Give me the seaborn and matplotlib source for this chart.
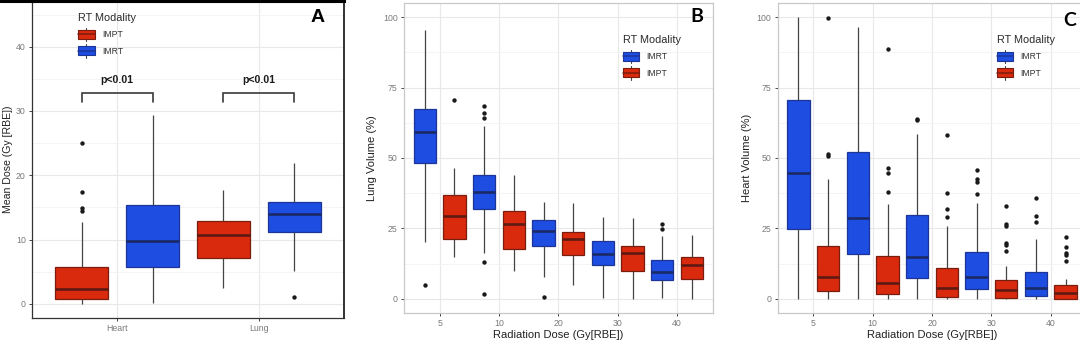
import numpy as np
import pandas as pd
import matplotlib
matplotlib.use("Agg")
import matplotlib.pyplot as plt
import seaborn as sns
from matplotlib.legend_handler import HandlerBase
from matplotlib.patches import Rectangle, Patch
from matplotlib.lines import Line2D
from matplotlib.ticker import MultipleLocator

# ---------------------------------------------------------------------------
# Box summaries per category: (lower whisker, Q1, median, Q3, upper whisker)
# ---------------------------------------------------------------------------

# Panel A - mean dose, Gy[RBE]
organs = ["Heart", "Lung"]
a_order = ["IMPT", "IMRT"]
a_impt = [(0.0, 0.7, 2.3, 5.8, 12.8), (2.4, 7.2, 10.7, 12.9, 17.7)]
a_imrt = [(0.15, 5.8, 9.7, 15.4, 29.3), (5.1, 11.2, 13.9, 15.9, 21.9)]
a_impt_out = [[25.0, 17.4, 14.9, 14.5], []]
a_imrt_out = [[], [1.1]]

# Panel B - lung volume (%) receiving each dose level
dose_levels = ["5", "10", "20", "30", "40"]
bc_order = ["IMRT", "IMPT"]
b_imrt = [(20.2, 48.2, 59.1, 67.4, 95.3), (16.3, 32.0, 38.0, 44.1, 61.4),
          (7.7, 18.9, 24.0, 28.0, 34.5), (0.2, 12.0, 16.1, 20.4, 29.2),
          (0.2, 6.6, 9.5, 13.9, 22.4)]
b_impt = [(14.8, 21.4, 29.5, 36.7, 46.4), (9.8, 17.8, 26.6, 31.3, 43.8),
          (4.8, 15.4, 21.4, 23.7, 34.1), (0.0, 9.8, 16.3, 18.9, 28.6),
          (0.0, 6.9, 12.1, 15.0, 22.6)]
b_imrt_out = [[4.8], [68.4, 66.1, 64.1, 13.0, 1.7], [0.5], [], [26.6, 24.7]]
b_impt_out = [[70.5], [], [], [], []]

# Panel C - heart volume (%) receiving each dose level
c_imrt = [(0.0, 24.8, 44.7, 70.5, 100.0), (0.0, 16.1, 28.6, 52.1, 96.6),
          (0.0, 7.5, 15.0, 29.8, 58.6), (0.0, 3.4, 7.9, 16.7, 34.2),
          (0.0, 1.1, 3.9, 9.5, 21.3)]
c_impt = [(0.0, 2.8, 7.9, 18.7, 42.4), (0.0, 1.8, 5.8, 15.1, 33.7),
          (0.0, 0.7, 4.0, 11.0, 25.7), (0.0, 0.35, 3.2, 6.7, 11.6),
          (0.0, 0.0, 2.2, 4.8, 7.2)]
c_imrt_out = [[], [], [64.0, 63.5], [45.7, 42.4, 41.5, 37.3], [35.7, 29.5, 27.4]]
c_impt_out = [[99.6, 51.3, 50.6], [88.7, 46.6, 44.7, 37.8], [58.0, 37.7, 31.9, 28.9],
              [33.0, 26.5, 25.7, 19.8, 19.3, 16.9], [21.8, 18.4, 16.3, 15.4, 13.3]]

# Significance annotation for panel A (Gy[RBE])
bracket_top = 32.8
bracket_foot = 31.4
pval_y = 34.8
pval_text = "p<0.01"

# ---------------------------------------------------------------------------
FILL = {"IMPT": "#DA2A0E", "IMRT": "#1E4DE2"}
EDGE = {"IMPT": "#7A1C0E", "IMRT": "#1C3596"}
MEDIAN = {"IMPT": "#5E1A12", "IMRT": "#1A2A66"}
WHISK = "#444444"
TICKLAB = "#7a7a7a"

sns.set_theme(style="ticks")
plt.rcParams["font.family"] = ["Liberation Sans", "DejaVu Sans"]


def long_table(cats, series):
    rows = []
    for mod, boxes in series.items():
        for cat, five in zip(cats, boxes):
            for v in five:
                rows.append({"cat": cat, "mod": mod, "val": v})
    return pd.DataFrame(rows)


def outlier_table(cats, hue_order, outs):
    slot = 1.0 / len(hue_order)
    rows = []
    for mod, lists in outs.items():
        k = hue_order.index(mod)
        offset = (k + 0.5) * slot - 0.5
        for i, vals in enumerate(lists):
            for v in vals:
                rows.append({"pos": i + offset, "val": v})
    return pd.DataFrame(rows)


class HandlerBoxKey(HandlerBase):
    def create_artists(self, legend, orig_handle, xdescent, ydescent,
                       width, height, fontsize, trans):
        x0, y0 = -xdescent, -ydescent
        cx = x0 + width / 2
        whisk = Line2D([cx, cx], [y0 - 0.25 * height, y0 + 1.25 * height],
                       color=WHISK, lw=0.8, transform=trans)
        box = Rectangle((x0, y0), width, height,
                        facecolor=orig_handle.get_facecolor(),
                        edgecolor=orig_handle.get_edgecolor(), lw=0.8,
                        transform=trans)
        med = Line2D([x0, x0 + width], [y0 + 0.5 * height] * 2,
                     color=orig_handle.get_edgecolor(), lw=1.1, transform=trans)
        return [whisk, box, med]


def draw_panel(ax, cats, hue_order, series, outs):
    df = long_table(cats, series)
    for mod in hue_order:
        sns.boxplot(data=df[df["mod"] == mod], x="cat", y="val", hue="mod",
                    order=cats, hue_order=hue_order, palette=FILL, saturation=1,
                    dodge=True, width=1.0, gap=0.25, whis=(0, 100),
                    showcaps=False, showfliers=False, linecolor=EDGE[mod],
                    linewidth=0.9,
                    medianprops=dict(color=MEDIAN[mod], linewidth=1.9),
                    whiskerprops=dict(color=WHISK, linewidth=0.9),
                    legend=False, ax=ax)
    fl = outlier_table(cats, hue_order, outs)
    if len(fl):
        ax.scatter(fl["pos"], fl["val"], s=10, color="#1a1a1a", zorder=5, linewidths=0)


def style_axis(ax, major, minor, spine_color, ylim, n):
    ax.set_xlim(-0.6, n - 1 + 0.6)
    ax.set_ylim(*ylim)
    ax.yaxis.set_major_locator(MultipleLocator(major))
    ax.yaxis.set_minor_locator(MultipleLocator(minor))
    ax.set_axisbelow(True)
    ax.grid(True, which="major", axis="both", color="#e8e8e8", lw=0.8)
    ax.grid(True, which="minor", axis="y", color="#f3f3f3", lw=0.6)
    ax.tick_params(which="minor", length=0)
    ax.tick_params(which="major", length=2.5, width=0.7, color="#444444",
                   labelsize=6.3, labelcolor=TICKLAB, pad=2)
    for s in ax.spines.values():
        s.set_visible(True)
        s.set_color(spine_color)
        s.set_linewidth(0.9)


def add_legend(ax, fig, hue_order, anchor):
    handles = [Patch(facecolor=FILL[m], edgecolor=EDGE[m], label=m) for m in hue_order]
    leg = ax.legend(handles=handles, title="RT Modality", loc="upper left",
                    bbox_to_anchor=anchor, bbox_transform=fig.transFigure,
                    frameon=False, fontsize=6.2, title_fontsize=7.8,
                    handlelength=1.9, handleheight=1.25, handletextpad=0.9,
                    labelspacing=0.8, borderpad=0, borderaxespad=0,
                    handler_map={Patch: HandlerBoxKey()})
    leg._legend_box.align = "left"
    leg.get_title().set_color("#2a2a2a")
    for t in leg.get_texts():
        t.set_color("#333333")
    return leg


fig = plt.figure(figsize=(10.8, 3.43), dpi=100)
axA = fig.add_axes([0.0296, 0.0729, 0.289, 0.924])
axB = fig.add_axes([0.3741, 0.0875, 0.2858, 0.9038])
axC = fig.add_axes([0.7201, 0.0875, 0.2858, 0.9038])

# ---- Panel A ----
draw_panel(axA, organs, a_order, {"IMPT": a_impt, "IMRT": a_imrt},
           {"IMPT": a_impt_out, "IMRT": a_imrt_out})
style_axis(axA, 10, 5, "#333333", (-2.2, 47.1), len(organs))
axA.spines["top"].set_color("black")
axA.spines["top"].set_linewidth(2.2)
axA.spines["right"].set_color("#222222")
axA.spines["right"].set_linewidth(1.3)
axA.set_xlabel("")
axA.set_ylabel("Mean Dose (Gy [RBE])", fontsize=7.6, color="#222222")
axA.yaxis.set_label_coords(-0.06, 0.5)
for i in range(len(organs)):
    axA.plot([i - 0.25, i - 0.25, i + 0.25, i + 0.25],
             [bracket_foot, bracket_top, bracket_top, bracket_foot],
             color="#3a3a3a", lw=1.2, solid_joinstyle="miter")
    axA.text(i, pval_y, pval_text, ha="center", va="center", fontsize=7.6,
             fontweight="bold", color="#1a1a1a")
add_legend(axA, fig, a_order, (0.0725, 0.962))
# frame line running along the top of panel A to the figure's left edge
fig.add_artist(Line2D([0, axA.get_position().x1], [0.997, 0.997],
                      transform=fig.transFigure, color="black", lw=2.2))

# ---- Panel B ----
draw_panel(axB, dose_levels, bc_order, {"IMRT": b_imrt, "IMPT": b_impt},
           {"IMRT": b_imrt_out, "IMPT": b_impt_out})
style_axis(axB, 25, 12.5, "#c9c9c9", (-5, 105), len(dose_levels))
axB.set_ylabel("Lung Volume (%)", fontsize=8, color="#222222")
axB.set_xlabel("Radiation Dose (Gy[RBE])", fontsize=8, color="#222222")
axB.yaxis.set_label_coords(-0.088, 0.5)
axB.xaxis.set_label_coords(0.5, -0.055)
add_legend(axB, fig, bc_order, (0.5765, 0.898))

# ---- Panel C ----
draw_panel(axC, dose_levels, bc_order, {"IMRT": c_imrt, "IMPT": c_impt},
           {"IMRT": c_imrt_out, "IMPT": c_impt_out})
style_axis(axC, 25, 12.5, "#c9c9c9", (-5, 105), len(dose_levels))
axC.set_ylabel("Heart Volume (%)", fontsize=8, color="#222222")
axC.set_xlabel("Radiation Dose (Gy[RBE])", fontsize=8, color="#222222")
axC.yaxis.set_label_coords(-0.083, 0.5)
axC.xaxis.set_label_coords(0.5, -0.055)
add_legend(axC, fig, bc_order, (0.9227, 0.898))

# Panel letters
fig.text(318 / 1080, 1 - 17 / 343, "A", ha="center", va="center", fontsize=14,
         fontweight="bold", color="black")
fig.text(697 / 1080, 1 - 17 / 343, "B", ha="center", va="center", fontsize=14,
         fontweight="bold", color="black", family=["Lato", "DejaVu Sans"])
fig.text(1070 / 1080, 1 - 20 / 343, "C", ha="center", va="center", fontsize=14,
         fontweight="bold", color="black", family=["Lato", "DejaVu Sans"])

fig.savefig("out.png", dpi=100, facecolor="white")
